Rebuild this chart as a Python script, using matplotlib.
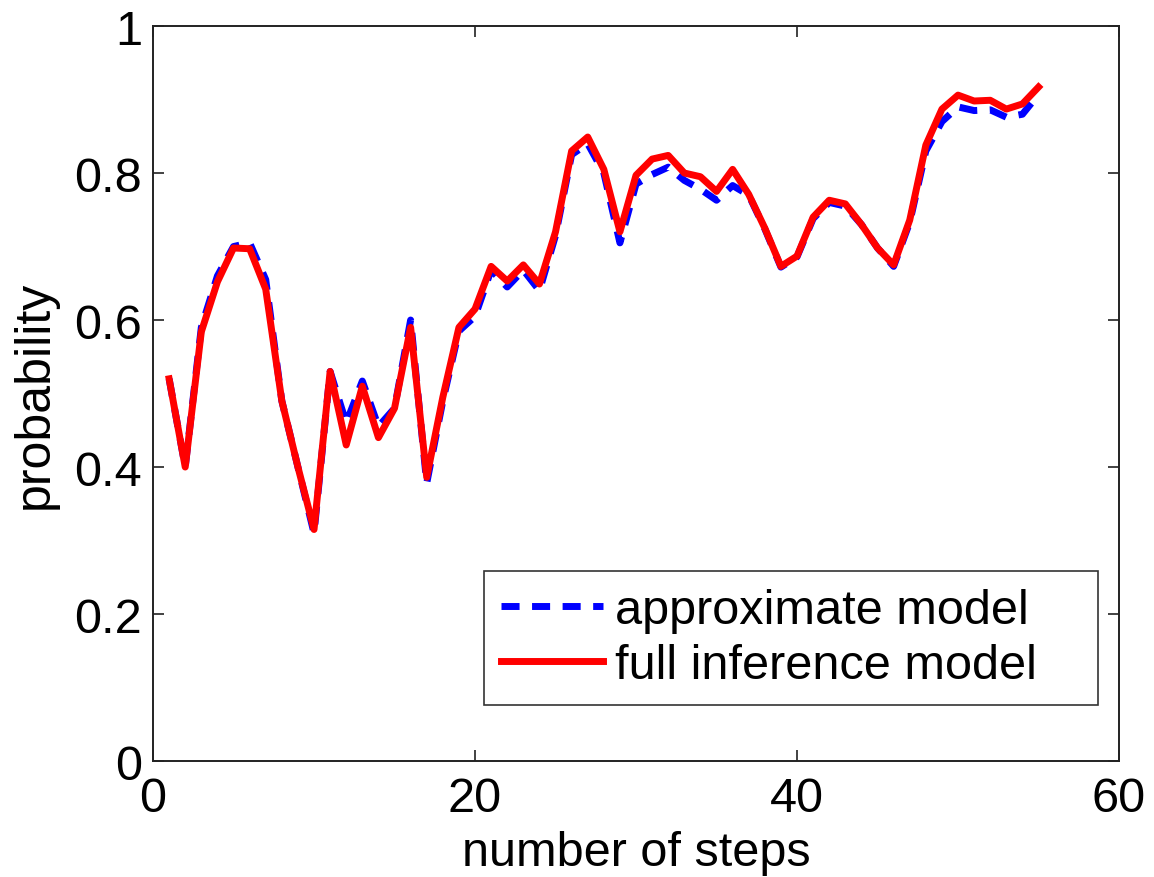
import numpy as np
import matplotlib.pyplot as plt

plt.rcParams['font.family'] = ['Liberation Sans', 'DejaVu Sans']

steps = np.arange(1, 56)

# probability per step, full inference model
full_model = [0.52, 0.40, 0.584, 0.652, 0.698, 0.697, 0.642, 0.49, 0.40, 0.315,
              0.53, 0.43, 0.51, 0.44, 0.48, 0.59, 0.386, 0.495, 0.59, 0.615,
              0.673, 0.653, 0.675, 0.649, 0.72, 0.83, 0.849, 0.805, 0.72, 0.797,
              0.819, 0.824, 0.80, 0.795, 0.775, 0.805, 0.771, 0.725, 0.673, 0.687,
              0.74, 0.763, 0.758, 0.73, 0.698, 0.675, 0.736, 0.838, 0.887, 0.906,
              0.898, 0.899, 0.887, 0.894, 0.917]

# probability per step, approximate model
approx_model = [0.52, 0.40, 0.59, 0.66, 0.70, 0.705, 0.655, 0.49, 0.40, 0.31,
                0.53, 0.46, 0.517, 0.455, 0.48, 0.60, 0.378, 0.49, 0.585, 0.605,
                0.668, 0.645, 0.668, 0.64, 0.715, 0.825, 0.84, 0.80, 0.705, 0.785,
                0.798, 0.808, 0.79, 0.778, 0.763, 0.783, 0.77, 0.724, 0.672, 0.686,
                0.738, 0.76, 0.755, 0.73, 0.698, 0.673, 0.733, 0.83, 0.87, 0.89,
                0.885, 0.886, 0.876, 0.88, 0.907]

x_ticks = [0, 20, 40, 60]
y_ticks = [0, 0.2, 0.4, 0.6, 0.8, 1]
y_tick_labels = ['0', '0.2', '0.4', '0.6', '0.8', '1']

fig = plt.figure(figsize=(11.54, 8.78), dpi=100)
ax = fig.add_axes([0.1326, 0.1321, 0.8371, 0.8371])

ax.plot(steps, approx_model, color='#0000ff', lw=5, dashes=(2.6, 1.8),
        label='approximate model')
ax.plot(steps, full_model, color='#ff0000', lw=5, label='full inference model')

ax.set_xlim(0, 60)
ax.set_ylim(0, 1)
ax.set_xticks(x_ticks)
ax.set_yticks(y_ticks)
ax.set_yticklabels(y_tick_labels)
ax.tick_params(direction='in', length=8, width=1.2, labelsize=35,
               top=True, right=True, pad=8, colors='#222222', labelcolor='black')
ax.tick_params(axis='x', pad=11)
for sp in ax.spines.values():
    sp.set_linewidth(1.4)
    sp.set_color('#222222')

ax.set_xlabel('number of steps', fontsize=35, labelpad=6)
ax.set_ylabel('probability', fontsize=36, labelpad=12)

# legend box stretched across a fixed span, text left-aligned
leg = ax.legend(loc='lower left', bbox_to_anchor=(0.3427, 0.0762, 0.6356, 0.1864),
                mode='expand', fontsize=35, frameon=True, fancybox=False,
                handlelength=2.1, handletextpad=0.25, borderpad=0.35,
                labelspacing=0.2, borderaxespad=0)
leg.get_frame().set_edgecolor('black')
leg.get_frame().set_linewidth(1.2)

fig.savefig('out.png', dpi=100)
